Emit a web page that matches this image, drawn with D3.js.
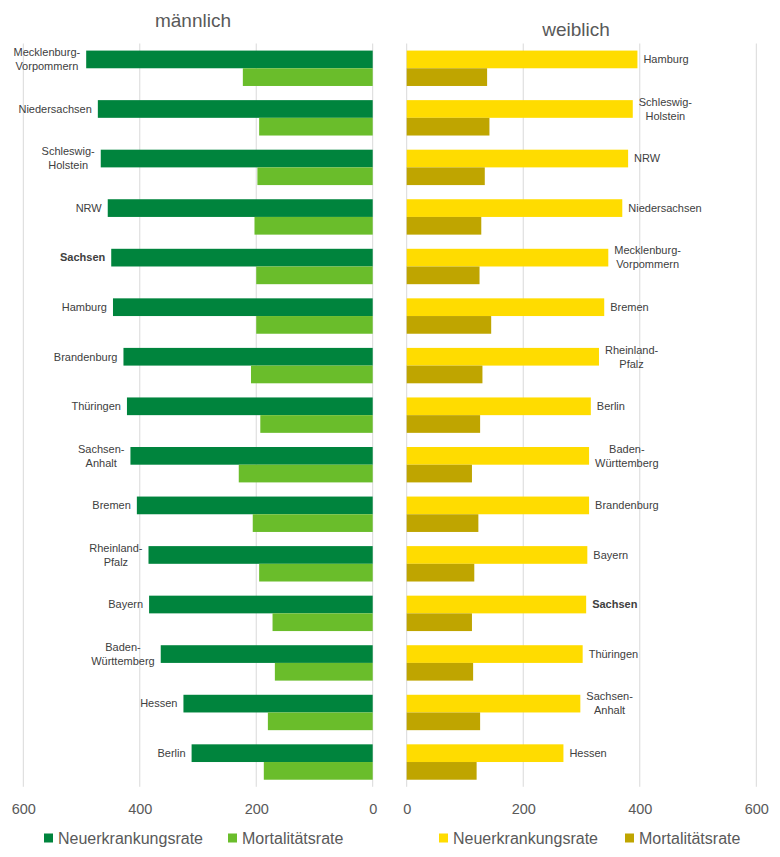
<!DOCTYPE html>
<html><head><meta charset="utf-8">
<script src="https://cdn.jsdelivr.net/npm/d3@7"></script>
<style>
body{margin:0;background:#fff;}
text{font-family:"Liberation Sans",Arial,sans-serif;}
</style></head>
<body>
<svg id="chart" width="780" height="857"></svg>
<script>
// ---- data ----
const categoriesMale = ["Mecklenburg-\nVorpommern","Niedersachsen","Schleswig-\nHolstein","NRW","Sachsen","Hamburg","Brandenburg","Thüringen","Sachsen-\nAnhalt","Bremen","Rheinland-\nPfalz","Bayern","Baden-\nWürttemberg","Hessen","Berlin"];
const incidenceMale = [492,472,467,455,449,446,428,422,416,405,385,384,364,325,311];
const mortalityMale = [223,195,198,203,200,200,209,193,230,206,195,172,168,180,187];

const categoriesFemale = ["Hamburg","Schleswig-\nHolstein","NRW","Niedersachsen","Mecklenburg-\nVorpommern","Bremen","Rheinland-\nPfalz","Berlin","Baden-\nWürttemberg","Brandenburg","Bayern","Sachsen","Thüringen","Sachsen-\nAnhalt","Hessen"];
const incidenceFemale = [396,388,380,370,346,339,330,316,313,313,310,308,302,298,269];
const mortalityFemale = [138,142,134,128,125,145,130,126,112,123,116,112,114,126,120];

const axisTicks = [0,200,400,600];
const seriesNames = ["Neuerkrankungsrate","Mortalitätsrate"];
const titles = ["männlich","weiblich"];
const highlight = "Sachsen";

// ---- layout ----
const svg = d3.select("#chart");
const plotTop = 43.5, plotBottom = 786.8;
const panels = [
  {title:titles[0], cats:categoriesMale, inc:incidenceMale, mort:mortalityMale,
   range:[372.7,23.3], colors:["#00843D","#6ABD2B"], side:"left", titleX:193, titleY:27,
   legendX:[44,228]},
  {title:titles[1], cats:categoriesFemale, inc:incidenceFemale, mort:mortalityFemale,
   range:[406.7,756.3], colors:["#FFDC00","#BFA500"], side:"right", titleX:576, titleY:36,
   legendX:[439,625]}
];

panels.forEach(p => {
  const g = svg.append("g");
  const x = d3.scaleLinear().domain([0,600]).range(p.range);
  const y = d3.scaleBand().domain(p.cats).range([plotTop,plotBottom]).paddingInner(0.2857).paddingOuter(0.14285);
  const yIn = d3.scaleBand().domain([0,1]).range([0,y.bandwidth()]);

  // gridlines
  g.selectAll("line.grid").data(axisTicks).join("line")
    .attr("x1",d=>x(d)).attr("x2",d=>x(d)).attr("y1",plotTop).attr("y2",plotBottom)
    .attr("stroke","#d9d9d9").attr("stroke-width",1);

  // axis tick labels
  const axis = d3.axisBottom(x).tickValues(axisTicks).tickSize(0).tickPadding(0);
  const ag = g.append("g").attr("transform",`translate(0,${plotBottom+22})`).call(axis);
  ag.select(".domain").remove();
  ag.selectAll("text").attr("font-size",14.5).attr("fill","#595959").attr("dy","0.35em")
    .style("font-family",'"Liberation Sans",Arial,sans-serif');

  // bars
  [p.inc,p.mort].forEach((vals,si) => {
    g.selectAll(null).data(p.cats).join("rect")
      .attr("x",(c,i)=>Math.min(x(0),x(vals[i])))
      .attr("width",(c,i)=>Math.abs(x(vals[i])-x(0)))
      .attr("y",c=>y(c)+yIn(si))
      .attr("height",yIn.bandwidth())
      .attr("fill",p.colors[si]);
  });

  // category labels at end of incidence bar
  p.cats.forEach((c,i) => {
    const lines = c.split("\n");
    const t = g.append("text").attr("font-size",11).attr("fill","#404040")
      .attr("text-anchor","middle")
      .attr("font-weight", c===highlight?"bold":"normal");
    const cy = y(c)+yIn(0)+yIn.bandwidth()/2;
    const lh = 14;
    lines.forEach((ln,k)=>{
      t.append("tspan").text(ln)
        .attr("y", cy + (k-(lines.length-1)/2)*lh).attr("dy","0.35em");
    });
    const w = d3.max(t.selectAll("tspan").nodes(), n=>n.getComputedTextLength());
    const xe = x(p.inc[i]);
    let cx;
    if (p.side==="left") { cx = xe - 6 - w/2; cx = Math.max(cx, 12 + w/2); }
    else { cx = xe + 6 + w/2; }
    t.selectAll("tspan").attr("x",cx);
  });

  // title
  svg.append("text").attr("x",p.titleX).attr("y",p.titleY).attr("text-anchor","middle")
    .attr("font-size",19).attr("fill","#595959").text(p.title);

  // legend
  seriesNames.forEach((s,si)=>{
    const lx = p.legendX[si];
    svg.append("rect").attr("x",lx).attr("y",833.5).attr("width",9).attr("height",9).attr("fill",p.colors[si]);
    svg.append("text").attr("x",lx+14).attr("y",838).attr("dy","0.35em")
      .attr("font-size",16).attr("fill","#595959").text(s);
  });
});
</script>
</body></html>
